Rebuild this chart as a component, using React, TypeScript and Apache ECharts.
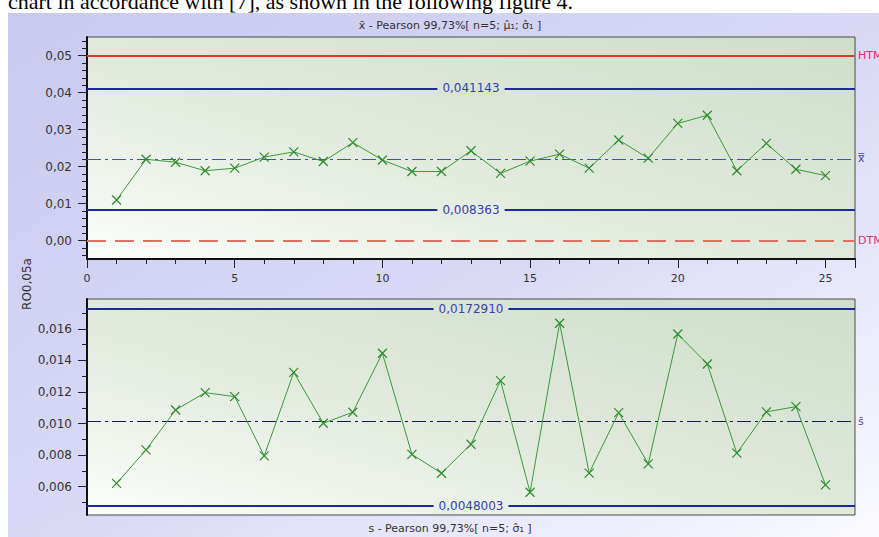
import React, { useEffect, useRef } from "react";
import * as echarts from "echarts";

// ---------- data ----------
const sampleNumbers = [1, 2, 3, 4, 5, 6, 7, 8, 9, 10, 11, 12, 13, 14, 15, 16, 17, 18, 19, 20, 21, 22, 23, 24, 25];

const xbarValues = [
  0.011, 0.022, 0.0212, 0.0189, 0.0196, 0.0226, 0.024, 0.0214, 0.0265, 0.0218,
  0.0187, 0.0187, 0.0243, 0.0182, 0.0215, 0.0234, 0.0196, 0.0272, 0.0223, 0.0317,
  0.0339, 0.0189, 0.0263, 0.0193, 0.0176,
];

const sValues = [
  0.00621, 0.00833, 0.01086, 0.01196, 0.01171, 0.00795, 0.01325, 0.01002, 0.01072, 0.01446,
  0.00805, 0.00685, 0.00869, 0.01272, 0.00564, 0.01636, 0.00686, 0.01069, 0.00744, 0.01568,
  0.01378, 0.00812, 0.01074, 0.01107, 0.00611,
];

// control limits
const xbarHTM = 0.05;
const xbarUCL = 0.041143;
const xbarMean = 0.02208;
const xbarLCL = 0.008363;
const xbarDTM = 0;

const sUCL = 0.017291;
const sMean = 0.01015;
const sLCL = 0.0048003;

// axis ticks
const xbarTicks = [0, 0.01, 0.02, 0.03, 0.04, 0.05];
const xbarMinorTicks = [
  -0.004, -0.002, 0.002, 0.004, 0.006, 0.008, 0.012, 0.014, 0.016, 0.018, 0.022, 0.024,
  0.026, 0.028, 0.032, 0.034, 0.036, 0.038, 0.042, 0.044, 0.046, 0.048, 0.052, 0.054,
];
const sTicks = [0.006, 0.008, 0.01, 0.012, 0.014, 0.016];
const sMinorTicks = [0.005, 0.007, 0.009, 0.011, 0.013, 0.015, 0.017];

// texts
const docLine = "chart in accordance with [7], as shown in the following figure 4.";
const xbarTitle = "x\u0304 - Pearson 99,73%[ n=5; \u03BC\u0302\u2081; \u03C3\u0302\u2081 ]";
const sTitle = "s - Pearson 99,73%[ n=5; \u03C3\u0302\u2081 ]";
const yName = "RO0,05a";

// ---------- styles ----------
const FONT = '"DejaVu Sans", sans-serif';
const comma = (v: number, d: number) => v.toFixed(d).replace(".", ",");
const crossSymbol = "path://M0,0L10,10M10,0L0,10";
const navy = "#1b2a9c";
const labelBlue = "#3242b0";
const meanBlue = "#4050c4";

function plotGradient() {
  return new echarts.graphic.LinearGradient(1, 0, 0, 1, [
    { offset: 0, color: "#cfdec9" },
    { offset: 0.55, color: "#e1eadd" },
    { offset: 1, color: "#fbfdfa" },
  ]);
}

function minorAxis(gridIndex: number, min: number, max: number, ticks: number[]) {
  return {
    gridIndex,
    type: "value",
    position: "left",
    min,
    max,
    axisLine: { show: false },
    axisLabel: { show: false },
    splitLine: { show: false },
    axisTick: { show: true, length: 5, customValues: ticks, lineStyle: { color: "#222", width: 1 } },
  };
}

export default function App() {
  const ref = useRef<HTMLDivElement>(null);

  useEffect(() => {
    if (!ref.current) return;
    const chart = echarts.init(ref.current, null, { renderer: "svg" });

    const midLabel = (v: number, d: number, bg: string) => ({
      show: true,
      position: "middle",
      distance: 0,
      verticalAlign: "middle",
      formatter: comma(v, d),
      color: labelBlue,
      fontSize: 12,
      fontFamily: FONT,
      backgroundColor: bg,
      padding: [2, 5],
    });
    const endLabel = (text: string, color: string) => ({
      show: true,
      position: "end",
      distance: 3,
      formatter: text,
      color,
      fontSize: 11,
      fontFamily: FONT,
    });

    const option: any = {
      animation: false,
      backgroundColor: "#ffffff",
      textStyle: { fontFamily: FONT },
      graphic: [
        {
          type: "rect",
          z: -100,
          silent: true,
          shape: { x: 8, y: 13, width: 871, height: 524 },
          style: {
            fill: new echarts.graphic.LinearGradient(0, 0, 1, 1, [
              { offset: 0, color: "#c9c9ef" },
              { offset: 0.55, color: "#dadaf7" },
              { offset: 1, color: "#fafaff" },
            ]),
          },
        },
        {
          type: "text",
          x: 8,
          y: 12,
          style: { text: docLine, font: '22px "Liberation Serif"', fill: "#000", verticalAlign: "bottom" },
        },
        {
          type: "text",
          x: 450,
          y: 25,
          style: { text: xbarTitle, font: `11px ${FONT}`, fill: "#333", align: "center", verticalAlign: "middle" },
        },
        {
          type: "text",
          x: 450,
          y: 528,
          style: { text: sTitle, font: `11px ${FONT}`, fill: "#333", align: "center", verticalAlign: "middle" },
        },
        {
          type: "text",
          x: 27,
          y: 284,
          rotation: Math.PI / 2,
          style: { text: yName, font: `12px ${FONT}`, fill: "#333", align: "center", verticalAlign: "middle" },
        },
      ],
      grid: [
        {
          left: 87, top: 37, width: 768, height: 222,
          show: true, backgroundColor: plotGradient(), borderColor: "#4a4a4a", borderWidth: 1,
          outerBoundsMode: "none", containLabel: false,
        },
        {
          left: 87, top: 299, width: 768, height: 216,
          show: true, backgroundColor: plotGradient(), borderColor: "#4a4a4a", borderWidth: 1,
          outerBoundsMode: "none", containLabel: false,
        },
      ],
      xAxis: [
        {
          gridIndex: 0,
          type: "value",
          position: "bottom",
          min: 0,
          max: 26,
          interval: 5,
          axisLine: { show: true, onZero: false, lineStyle: { color: "#111", width: 2 } },
          axisTick: { show: true, length: 9, lineStyle: { color: "#222" } },
          minorTick: { show: true, splitNumber: 5, length: 5, lineStyle: { color: "#222" } },
          axisLabel: { margin: 14, fontSize: 11, color: "#333", showMaxLabel: false },
          splitLine: { show: false },
          minorSplitLine: { show: false },
        },
        { gridIndex: 1, type: "value", min: 0, max: 26, interval: 5, show: false },
      ],
      yAxis: [
        {
          gridIndex: 0,
          type: "value",
          position: "left",
          min: -0.00495,
          max: 0.05505,
          axisLine: { show: true, onZero: false, lineStyle: { color: "#111", width: 2 } },
          axisTick: { show: true, length: 9, customValues: xbarTicks, lineStyle: { color: "#222" } },
          axisLabel: { customValues: xbarTicks, formatter: (v: number) => comma(v, 2), margin: 15, fontSize: 12, color: "#333" },
          splitLine: { show: false },
        },
        minorAxis(0, -0.00495, 0.05505, xbarMinorTicks),
        {
          gridIndex: 1,
          type: "value",
          position: "left",
          min: 0.0042,
          max: 0.0179,
          axisLine: { show: true, onZero: false, lineStyle: { color: "#111", width: 2 } },
          axisTick: { show: true, length: 9, customValues: sTicks, lineStyle: { color: "#222" } },
          axisLabel: { customValues: sTicks, formatter: (v: number) => comma(v, 3), margin: 15, fontSize: 12, color: "#333" },
          splitLine: { show: false },
        },
        minorAxis(1, 0.0042, 0.0179, sMinorTicks),
      ],
      series: [
        {
          type: "line",
          xAxisIndex: 0,
          yAxisIndex: 0,
          data: sampleNumbers.map((n, i) => [n, xbarValues[i]]),
          symbol: crossSymbol,
          symbolSize: 9,
          lineStyle: { color: "#3a9a3a", width: 1 },
          itemStyle: { color: "#2e8b2e", borderColor: "#2e8b2e", borderWidth: 1.2 },
          z: 5,
          markLine: {
            silent: true,
            precision: 10,
            symbol: ["none", "none"],
            data: [
              { yAxis: xbarHTM, lineStyle: { color: "#e8342c", width: 2, type: "solid" }, label: endLabel("HTM", "#e0306a") },
              { yAxis: xbarUCL, lineStyle: { color: navy, width: 2, type: "solid" }, label: midLabel(xbarUCL, 6, "#d9e4d5") },
              { yAxis: xbarMean, lineStyle: { color: meanBlue, width: 1.2, type: [14, 4, 3, 4] }, label: endLabel("x\u033F", "#4a4aa0") },
              { yAxis: xbarLCL, lineStyle: { color: navy, width: 2, type: "solid" }, label: midLabel(xbarLCL, 6, "#e6eee3") },
              { yAxis: xbarDTM, lineStyle: { color: "#e07060", width: 2, type: [19, 9] }, label: endLabel("DTM", "#e0306a") },
            ],
          },
        },
        {
          type: "line",
          xAxisIndex: 1,
          yAxisIndex: 2,
          data: sampleNumbers.map((n, i) => [n, sValues[i]]),
          symbol: crossSymbol,
          symbolSize: 9,
          lineStyle: { color: "#3a9a3a", width: 1 },
          itemStyle: { color: "#2e8b2e", borderColor: "#2e8b2e", borderWidth: 1.2 },
          z: 5,
          markLine: {
            silent: true,
            precision: 10,
            symbol: ["none", "none"],
            data: [
              { yAxis: sUCL, lineStyle: { color: navy, width: 2, type: "solid" }, label: midLabel(sUCL, 7, "#d9e4d5") },
              { yAxis: sMean, lineStyle: { color: "#1a1a50", width: 1, type: [14, 4, 3, 4] }, label: endLabel("s\u0304", "#4a4aa0") },
              { yAxis: sLCL, lineStyle: { color: navy, width: 2, type: "solid" }, label: midLabel(sLCL, 7, "#e9f0e6") },
            ],
          },
        },
      ],
    };

    chart.setOption(option);
    return () => chart.dispose();
  }, []);

  return (
    <div
      ref={ref}
      style={{ position: "absolute", left: 0, top: 0, width: 879, height: 537 }}
    />
  );
}
